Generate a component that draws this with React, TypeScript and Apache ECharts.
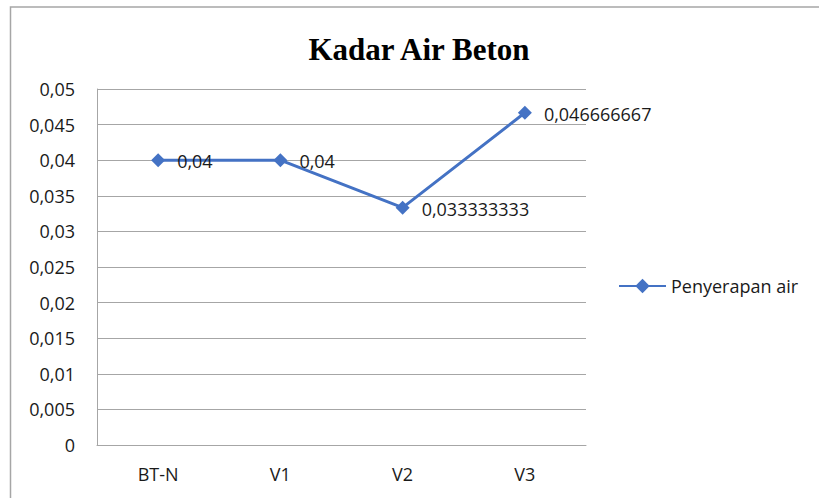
import React, { useEffect, useRef } from "react";
import * as echarts from "echarts";

const categories = ["BT-N", "V1", "V2", "V3"];
const seriesName = "Penyerapan air";
const values = [0.04, 0.04, 0.033333333, 0.046666667];
const valueLabels = ["0,04", "0,04", "0,033333333", "0,046666667"];
const titleText = "Kadar Air Beton";

export default function App() {
  const ref = useRef<HTMLDivElement>(null);
  useEffect(() => {
    if (!ref.current) return;
    const chart = echarts.init(ref.current, null, { renderer: "svg" });
    const fmt = (v: number) => {
      if (v === 0) return "0";
      return String(parseFloat(v.toFixed(3))).replace(".", ",");
    };
    chart.setOption({
      animation: false,
      backgroundColor: "#ffffff",
      title: {
        text: titleText,
        left: 414,
        textAlign: "center",
        top: 29,
        textStyle: {
          fontFamily: "Liberation Serif",
          fontWeight: "bold",
          fontSize: 31,
          color: "#000000",
        },
      },
      graphic: [
        {
          type: "rect",
          shape: { x: 10.5, y: 7, width: 900, height: 600 },
          style: { fill: "none", stroke: "#a6a6a6", lineWidth: 1.5 },
          silent: true,
        },
      ],
      legend: {
        left: 613,
        top: 272,
        itemWidth: 47,
        itemHeight: 18,
        itemGap: 4,
        data: [{ name: seriesName }],
        textStyle: { fontFamily: "Open Sans", fontSize: 18, color: "#1a1a1a" },
      },
      grid: { left: 97, right: 233, top: 89, bottom: 53 },
      xAxis: {
        type: "category",
        data: categories,
        boundaryGap: true,
        axisLine: { show: true, lineStyle: { color: "#a6a6a6" } },
        axisTick: { show: false },
        axisLabel: {
          fontFamily: "Open Sans",
          fontSize: 18,
          color: "#1a1a1a",
          margin: 20,
        },
      },
      yAxis: {
        type: "value",
        min: 0,
        max: 0.05,
        interval: 0.005,
        axisLine: { show: true, lineStyle: { color: "#a6a6a6" } },
        axisTick: { show: false },
        splitLine: { lineStyle: { color: "#a6a6a6" } },
        axisLabel: {
          fontFamily: "Open Sans",
          fontSize: 18,
          color: "#1a1a1a",
          margin: 22,
          formatter: fmt,
        },
      },
      series: [
        {
          name: seriesName,
          type: "line",
          data: values,
          symbol: "diamond",
          symbolSize: 14,
          itemStyle: { color: "#4472c4" },
          lineStyle: { color: "#4472c4", width: 3 },
          label: {
            show: true,
            position: "right",
            distance: 12,
            fontFamily: "Open Sans",
            fontSize: 18,
            color: "#1a1a1a",
            offset: [0, 1],
            formatter: (p: any) => valueLabels[p.dataIndex],
          },
        },
      ],
    });
    return () => chart.dispose();
  }, []);
  return (
    <div
      ref={ref}
      style={{ position: "absolute", left: 0, top: 0, width: 819, height: 498 }}
    />
  );
}
